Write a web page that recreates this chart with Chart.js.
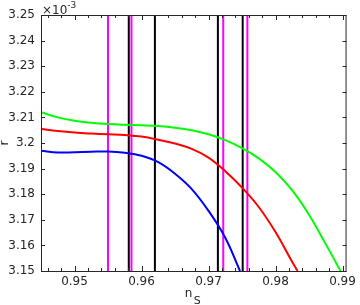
<!DOCTYPE html>
<html>
<head>
<meta charset="utf-8">
<script src="https://cdn.jsdelivr.net/npm/chart.js@4.4.0/dist/chart.umd.min.js"></script>
<style>
  html, body { margin: 0; padding: 0; background: #fff; }
  canvas { display: block; }
</style>
</head>
<body>
<canvas id="rChart" width="360" height="305"></canvas>
<script>
// tick labels
const xTicks = [0.95, 0.96, 0.97, 0.98, 0.99];
const yTicks = [3.15, 3.16, 3.17, 3.18, 3.19, 3.2, 3.21, 3.22, 3.23, 3.24, 3.25];

// curves, r in units of 1e-3
const nsGreen = [0.945, 0.9475, 0.950, 0.9525, 0.955, 0.9575, 0.960, 0.9625, 0.965, 0.9675, 0.970, 0.9725, 0.975, 0.9775, 0.980, 0.9825, 0.985, 0.9875, 0.9897];
const rGreen  = [3.2120, 3.2100, 3.2087, 3.2079, 3.2074, 3.2071, 3.2069, 3.2066, 3.2060, 3.2050, 3.2034, 3.2011, 3.1980, 3.1940, 3.1887, 3.1815, 3.1720, 3.1605, 3.1500];

const nsRed = [0.945, 0.9475, 0.950, 0.9525, 0.955, 0.9575, 0.960, 0.9625, 0.965, 0.9675, 0.970, 0.9725, 0.975, 0.9775, 0.980, 0.9825, 0.9833];
const rRed  = [3.2055, 3.2047, 3.2041, 3.2037, 3.2034, 3.2031, 3.2025, 3.2013, 3.1998, 3.1977, 3.1943, 3.1890, 3.1826, 3.1750, 3.1652, 3.1535, 3.1500];

const nsBlue = [0.945, 0.9475, 0.950, 0.9525, 0.955, 0.9575, 0.960, 0.9625, 0.965, 0.9675, 0.970, 0.9725, 0.9747];
const rBlue  = [3.1970, 3.1963, 3.1964, 3.1966, 3.1967, 3.1962, 3.1950, 3.1925, 3.1880, 3.1820, 3.1735, 3.1630, 3.1500];

// vertical bounds
const magentaLines = [0.955, 0.9585, 0.9722, 0.9758];
const blackLines = [0.9581, 0.962, 0.9714, 0.9751];

const FONT = 'DejaVu Sans';
const INK = '#262626';

function curve(xs, ys, color) {
    return {
        data: xs.map((x, i) => ({ x: x, y: ys[i] })),
        borderColor: color,
        borderWidth: 2,
        pointRadius: 0,
        showLine: true,
        tension: 0.4,
        order: 0
    };
}

function vline(x, color) {
    return {
        data: [{ x: x, y: yTicks[0] }, { x: x, y: yTicks[yTicks.length - 1] }],
        borderColor: color,
        borderWidth: 2,
        pointRadius: 0,
        showLine: true,
        order: 1
    };
}

const trimNum = v => String(parseFloat(Number(v).toFixed(3)));

const axesBox = {
    id: 'axesBox',
    afterDraw(chart) {
        const { ctx, chartArea: a, scales } = chart;
        ctx.save();
        ctx.strokeStyle = INK;
        ctx.lineWidth = 1;
        ctx.beginPath();
        // x ticks every 0.002, inward, bottom and top
        for (let k = 473; k <= 495; k++) {
            const px = Math.round(scales.x.getPixelForValue(k * 0.002)) + 0.5;
            const len = k % 5 === 0 ? 5 : 3;
            ctx.moveTo(px, a.bottom);
            ctx.lineTo(px, a.bottom - len);
            ctx.moveTo(px, a.top);
            ctx.lineTo(px, a.top + len);
        }
        // y ticks, inward, left and right
        yTicks.forEach(v => {
            const py = Math.round(scales.y.getPixelForValue(v)) + 0.5;
            ctx.moveTo(a.left, py);
            ctx.lineTo(a.left + 4, py);
            ctx.moveTo(a.right, py);
            ctx.lineTo(a.right - 4, py);
        });
        ctx.stroke();
        ctx.strokeRect(a.left + 0.5, a.top + 0.5, a.right - a.left - 1, a.bottom - a.top);

        ctx.fillStyle = INK;
        ctx.textBaseline = 'alphabetic';
        // exponent label
        ctx.textAlign = 'left';
        ctx.font = '12px ' + FONT;
        ctx.fillText('\u00d710', a.left + 1, 14);
        const w = ctx.measureText('\u00d710').width;
        ctx.font = '9px ' + FONT;
        ctx.fillText('-3', a.left + 1 + w, 8);

        // x title n_S
        const cx = (a.left + a.right) / 2;
        ctx.font = '12px ' + FONT;
        ctx.fillText('n', cx - 9, 297);
        ctx.font = '11px ' + FONT;
        ctx.fillText('S', cx, 304);

        // y title r
        ctx.translate(8, (a.top + a.bottom) / 2);
        ctx.rotate(-Math.PI / 2);
        ctx.textAlign = 'center';
        ctx.font = '12px ' + FONT;
        ctx.fillText('r', 0, 0);
        ctx.restore();
    }
};

new Chart(document.getElementById('rChart').getContext('2d'), {
    type: 'scatter',
    data: {
        datasets: [
            curve(nsGreen, rGreen, '#00ff00'),
            curve(nsRed, rRed, '#ff0000'),
            curve(nsBlue, rBlue, '#0000ff'),
            ...magentaLines.map(x => vline(x, '#ff00ff')),
            ...blackLines.map(x => vline(x, '#000000'))
        ]
    },
    options: {
        responsive: false,
        animation: false,
        layout: { padding: { top: 15, right: 9, left: 0, bottom: 0 } },
        plugins: {
            legend: { display: false },
            tooltip: { enabled: false }
        },
        scales: {
            x: {
                type: 'linear',
                min: 0.945,
                max: 0.9906,
                grid: { display: false, drawTicks: false },
                border: { display: false },
                afterBuildTicks: s => { s.ticks = xTicks.map(v => ({ value: v })); },
                afterFit: s => { s.height = 34; },
                ticks: {
                    color: INK,
                    font: { family: FONT, size: 12 },
                    padding: 4,
                    maxRotation: 0,
                    callback: v => trimNum(v)
                }
            },
            y: {
                type: 'linear',
                min: 3.15,
                max: 3.25,
                grid: { display: false, drawTicks: false },
                border: { display: false },
                afterBuildTicks: s => { s.ticks = yTicks.map(v => ({ value: v })); },
                afterFit: s => { s.width = 41; },
                ticks: {
                    color: INK,
                    font: { family: FONT, size: 12 },
                    padding: 6,
                    callback: v => trimNum(v)
                }
            }
        }
    },
    plugins: [axesBox]
});
</script>
</body>
</html>
